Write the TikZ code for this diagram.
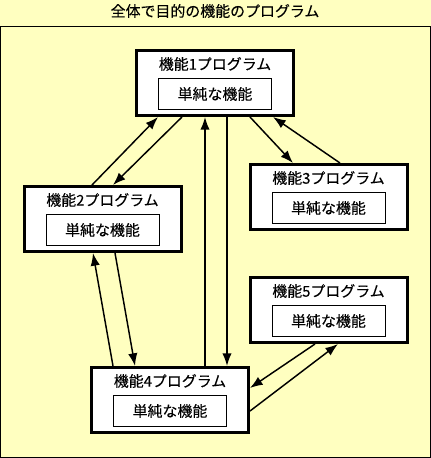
\documentclass[tikz,border=0pt]{standalone}
\usepackage{fontspec}
\setmainfont{Noto Sans CJK JP}[FakeBold=0.15]
\usepackage{tikz}
\usetikzlibrary{arrows.meta,calc,positioning}
\definecolor{paper}{RGB}{255,255,192}
\tikzset{every picture/.style={
  >={Latex[length=9.5pt,width=7pt]}   % Filled triangle tips.
  }
}

\begin{document}
\begin{tikzpicture}[x=0.75pt,y=-0.75pt,
        program/.style={
          rectangle,
          draw,
          fill=white,
          line width=2.25pt,
          minimum width=117.75pt,
          minimum height=48.75pt,
        },
        simple/.style={
          rectangle,
          draw,
          fill=white,
          line width=0.75pt,
          minimum width=84.75pt,
          minimum height=23.25pt,
          font=\fontsize{11.2}{13}\selectfont,
        },
        caption/.style={inner sep=0pt,font=\fontsize{11.2}{13}\selectfont},
        link/.style={line width=1.1pt,->}]
      \fill[paper] (0,0) rectangle (431,458);
      \useasboundingbox (0,0) rectangle (431,458);
      \draw[line width=0.75pt] (0.5,26.5) rectangle (430,457.5);
      \node[caption] (title) at (215,11) {全体で目的の機能のプログラム};
      % Program boxes, each with its simple function inside.
      \node[program] (prog1) at (215,83) {};
      \node[caption] (name1) at ($(prog1.north)+(0,15)$) {機能1プログラム};
      \node[simple] (simple1) at ($(prog1.center)+(0,11)$) {単純な機能};
      \node[program] (prog2) at (102.5,219) {};
      \node[caption] (name2) at ($(prog2.north)+(0,15)$) {機能2プログラム};
      \node[simple] (simple2) at ($(prog2.center)+(0,11)$) {単純な機能};
      \node[program] (prog3) at (328.5,197) {};
      \node[caption] (name3) at ($(prog3.north)+(0,15)$) {機能3プログラム};
      \node[simple] (simple3) at ($(prog3.center)+(0,11)$) {単純な機能};
      \node[program] (prog4) at (170,400) {};
      \node[caption] (name4) at ($(prog4.north)+(0,15)$) {機能4プログラム};
      \node[simple] (simple4) at ($(prog4.center)+(0,11)$) {単純な機能};
      \node[program] (prog5) at (328.5,310) {};
      \node[caption] (name5) at ($(prog5.north)+(0,15)$) {機能5プログラム};
      \node[simple] (simple5) at ($(prog5.center)+(0,11)$) {単純な機能};
      % Calls between the programs.
      \draw[link] ($(prog2.north)+(-10.5,0)$) -- ($(prog1.south)+(-57,0)$);
      \draw[link] ($(prog1.south)+(-33,0)$) -- ($(prog2.north)+(10.5,0)$);
      \draw[link] ($(prog4.north)+(35,0)$) -- ($(prog1.south)+(-10,0)$);
      \draw[link] ($(prog1.south)+(12,0)$) -- ($(prog4.north)+(57,0)$);
      \draw[link] ($(prog1.south)+(35,0)$) -- ($(prog3.north)+(-35.5,0)$);
      \draw[link] ($(prog3.north)+(11.5,0)$) -- ($(prog1.south)+(58,0)$);
      \draw[link] ($(prog4.north)+(-57,0)$) -- ($(prog2.south)+(-9.5,0)$);
      \draw[link] ($(prog2.south)+(12.5,0)$) -- ($(prog4.north)+(-35,0)$);
      \draw[link] ($(prog5.south)+(-13.5,0)$) -- ($(prog4.east)+(0,-12)$);
      \draw[link] ($(prog4.east)+(0,11)$) -- ($(prog5.south)+(9.5,0)$);
\end{tikzpicture}
\end{document}
